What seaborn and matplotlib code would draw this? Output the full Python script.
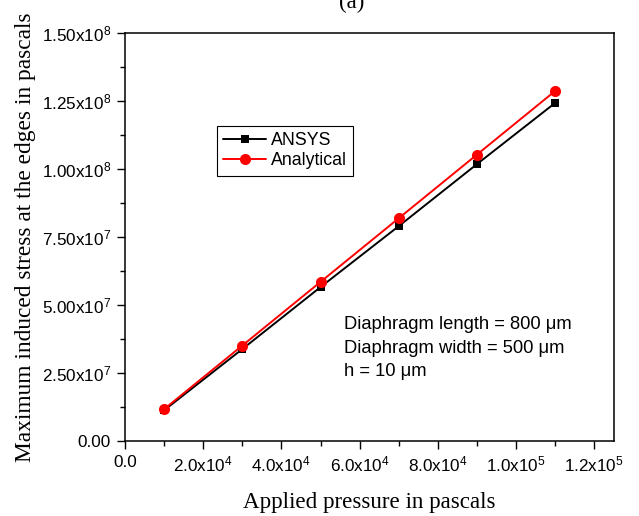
import pandas as pd
import matplotlib
matplotlib.use("Agg")
import matplotlib.pyplot as plt
from matplotlib.ticker import MultipleLocator, FuncFormatter
import seaborn as sns

# Datos
pressure = [1e4, 3e4, 5e4, 7e4, 9e4, 1.1e5]
ansys = [1.13e7, 3.38e7, 5.66e7, 7.90e7, 1.018e8, 1.243e8]
analytical = [1.17e7, 3.51e7, 5.85e7, 8.19e7, 1.053e8, 1.287e8]
series_names = ["ANSYS", "Analytical"]
notes = ["Diaphragm length = 800 \u03bcm", "Diaphragm width = 500 \u03bcm", "h = 10 \u03bcm"]

sns.set_style("ticks")
plt.rcParams["font.family"] = ["Liberation Sans", "DejaVu Sans"]
plt.rcParams["mathtext.default"] = "regular"
plt.rcParams["text.color"] = "black"
plt.rcParams["xtick.color"] = "black"
plt.rcParams["ytick.color"] = "black"
plt.rcParams["axes.labelcolor"] = "black"

df_ansys = pd.DataFrame({"pressure": pressure, "stress": ansys, "serie": series_names[0]})
df_anal = pd.DataFrame({"pressure": pressure, "stress": analytical, "serie": series_names[1]})

fig = plt.figure(figsize=(6.39, 5.16), dpi=100)
ax = fig.add_axes([0.1956, 0.1453, 0.765, 0.7907])

sns.lineplot(data=df_ansys, x="pressure", y="stress", color="black", marker="s",
             markersize=6.4, markeredgewidth=0, linewidth=1.4, label=series_names[0], ax=ax)
sns.lineplot(data=df_anal, x="pressure", y="stress", color="red", marker="o",
             markersize=8, markeredgewidth=0, linewidth=1.4, label=series_names[1], ax=ax)

ax.set_xlim(0, 1.25e5)
ax.set_ylim(0, 1.5e8)
ax.xaxis.set_major_locator(MultipleLocator(2e4))
ax.xaxis.set_minor_locator(MultipleLocator(1e4))
ax.yaxis.set_major_locator(MultipleLocator(2.5e7))
ax.yaxis.set_minor_locator(MultipleLocator(1.25e7))


def sci_fmt(decimals):
    def f(v, pos):
        if v == 0:
            return "0." + "0" * decimals
        e = 0
        m = v
        while abs(m) >= 10:
            m /= 10
            e += 1
        return f"{m:.{decimals}f}x10$^{{{e}}}$"
    return f


ax.xaxis.set_major_formatter(FuncFormatter(sci_fmt(1)))
ax.yaxis.set_major_formatter(FuncFormatter(sci_fmt(2)))
ax.tick_params(axis="both", which="major", direction="out", length=6, width=1,
               labelsize=12.3, pad=4)
ax.tick_params(axis="both", which="minor", direction="out", length=3.5, width=1)
for s in ax.spines.values():
    s.set_color("black")
    s.set_linewidth(1.1)

ax.set_xlabel("Applied pressure in pascals", family=["Liberation Serif"], fontsize=16.6)
ax.set_ylabel("Maximum induced stress at the edges in pascals", family=["Liberation Serif"], fontsize=16.8)
ax.xaxis.set_label_coords(0.5, -0.125)
ax.yaxis.set_label_coords(-0.182, 0.5)

leg = ax.legend(loc="upper left", bbox_to_anchor=(0.17, 0.795), fontsize=12.8,
                frameon=True, fancybox=False, edgecolor="black", framealpha=1,
                handlelength=2.4, borderpad=0.35, labelspacing=0.2, handletextpad=0.3)
leg.get_frame().set_linewidth(0.8)

for i, t in enumerate(notes):
    ax.text(0.448, 0.285 - i * 0.057, t, transform=ax.transAxes, fontsize=13.2,
            ha="left", va="center")

fig.text(0.551, 0.995, "(a)", family=["Liberation Serif"], fontsize=16.6, ha="center", va="center")

fig.savefig("out.png", dpi=100)
